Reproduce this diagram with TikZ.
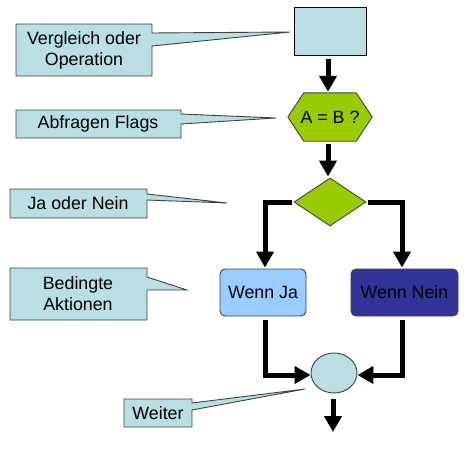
\documentclass[tikz,border=0pt]{standalone}
\usepackage{fontspec}
\setmainfont{Liberation Sans}
\usetikzlibrary{arrows.meta,shapes.geometric,backgrounds}
\definecolor{cfill}{HTML}{B9DFE2}
\definecolor{cgreen}{HTML}{99CC00}
\definecolor{cja}{HTML}{99CCFF}
\definecolor{cnein}{HTML}{333399}
\definecolor{cline}{HTML}{404040}
\begin{document}
\begin{tikzpicture}[x=1pt,y=-1pt,
  txt/.style={font=\fontsize{17.8}{21}\selectfont, align=center, inner sep=0pt},
  callout/.style={fill=cfill, draw=cline, line width=0.9pt, line join=miter},
  flowbox/.style={draw=cline, line width=0.9pt, inner sep=0pt},
  flow/.style={line width=5pt, line join=miter, -{Triangle[width=17pt,length=16pt]}}
]
\useasboundingbox (0,0) rectangle (469,463);

% flow nodes
\node[flowbox, fill=cfill, draw=black, minimum width=72pt, minimum height=48pt] (op) at (330,31) {};
\node[txt, minimum width=84pt, minimum height=48pt] (flags) at (330,117) {A = B ?};
\node[flowbox, fill=cgreen, diamond, minimum width=72pt, minimum height=48pt] (dec) at (330,202) {};
\node[flowbox, txt, fill=cja, rounded corners=5pt, minimum width=86pt, minimum height=47pt] (ja) at (263,292.5) {Wenn Ja};
\node[flowbox, txt, fill=cnein, rounded corners=5pt, minimum width=107pt, minimum height=47pt] (nein) at (404.5,292.5) {Wenn Nein};
\node[flowbox, fill=cfill, ellipse, minimum width=46pt, minimum height=40pt] (join) at (334,373) {};
\coordinate (out) at (333,432);

% callout texts
\node[txt] (c1) at (84,50) {Vergleich oder\\Operation};
\node[txt] (c2) at (98,124) {Abfragen Flags};
\node[txt] (c3) at (78,203) {Ja oder Nein};
\node[txt] (c4) at (78,294) {Bedingte\\Aktionen};
\node[txt] (c5) at (158,413) {Weiter};
\coordinate (t1) at (290,32);
\coordinate (t2) at (276,118);
\coordinate (t3) at (227,203);
\coordinate (t4) at (187,290);
\coordinate (t5) at (305,389);

\begin{scope}[on background layer]
  \filldraw[flowbox, fill=cgreen] (flags.west) -- ([xshift=16pt]flags.north west) -- ([xshift=-16pt]flags.north east) -- (flags.east) -- ([xshift=-16pt]flags.south east) -- ([xshift=16pt]flags.south west) -- cycle;
  \filldraw[callout] (16,24) -- (152,24) -- (152,33) -- (t1) -- (152,46) -- (152,76) -- (16,76) -- cycle;
  \filldraw[callout] (16,110) -- (181,110) -- (181,114) -- (t2) -- (181,124) -- (181,138) -- (16,138) -- cycle;
  \filldraw[callout] (10,189) -- (147,189) -- (147,194) -- (t3) -- (147,200) -- (147,218) -- (10,218) -- cycle;
  \filldraw[callout] (10,268) -- (147,268) -- (147,277) -- (t4) -- (147,290) -- (147,320) -- (10,320) -- cycle;
  \filldraw[callout] (124,399) -- (192,399) -- (192,403) -- (t5) -- (192,410) -- (192,427) -- (124,427) -- cycle;
\end{scope}

% connectors
\draw[flow] ([xshift=-2pt,yshift=-4pt]op.south) -- ([xshift=-2pt,yshift=1pt]flags.north);
\draw[flow] ([xshift=-2pt,yshift=-3pt]flags.south) -- ([xshift=-2pt,yshift=1pt]dec.north);
\draw[flow] ([xshift=-2pt]dec.west) -| ([xshift=2pt,yshift=1pt]ja.north);
\draw[flow] ([xshift=2pt]dec.east) -| ([xshift=-2.5pt,yshift=1pt]nein.north);
\draw[flow] ([xshift=2pt,yshift=-4pt]ja.south) |- ([yshift=-2pt]join.west);
\draw[flow] ([xshift=-2.5pt,yshift=-4pt]nein.south) |- ([yshift=-2pt]join.east);
\draw[flow] ([xshift=-1pt,yshift=-6pt]join.south) -- (out);
\end{tikzpicture}
\end{document}
